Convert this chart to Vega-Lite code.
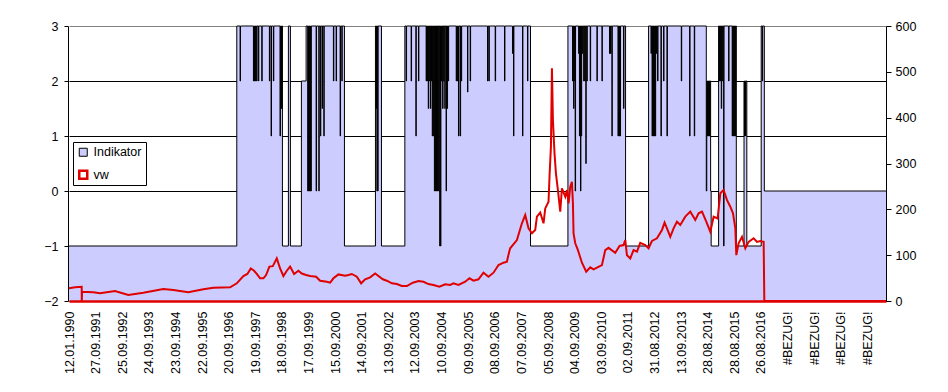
{
  "$schema": "https://vega.github.io/schema/vega-lite/v6.json",
  "width": 817,
  "height": 275,
  "autosize": "none",
  "padding": {"left": 69, "top": 26, "right": 62, "bottom": 91},
  "background": "white",
  "config": {
    "view": {"stroke": null},
    "font": "Liberation Sans",
    "axis": {"labelFont": "Liberation Sans", "labelFontSize": 12.5, "labelColor": "black", "domainColor": "black", "tickColor": "black", "title": null},
    "legend": {"labelFont": "Liberation Sans", "labelFontSize": 12.5, "labelColor": "black", "titleFont": "Liberation Sans"}
  },
  "datasets": {
    "ind": [
      {"u":0,"Indikator":-1},
      {"u":6.305,"Indikator":3},
      {"u":6.429,"Indikator":2},{"u":6.444,"Indikator":3},
      {"u":6.93,"Indikator":2},{"u":6.945,"Indikator":3},{"u":6.97,"Indikator":2},{"u":6.985,"Indikator":3},{"u":7.01,"Indikator":2},{"u":7.025,"Indikator":3},{"u":7.05,"Indikator":2},{"u":7.065,"Indikator":3},
      {"u":7.117,"Indikator":2},{"u":7.132,"Indikator":3},
      {"u":7.244,"Indikator":2},{"u":7.259,"Indikator":3},
      {"u":7.53,"Indikator":2},{"u":7.545,"Indikator":3},
      {"u":7.594,"Indikator":1},{"u":7.609,"Indikator":3},
      {"u":7.68,"Indikator":2},{"u":7.695,"Indikator":3},
      {"u":7.93,"Indikator":1},{"u":7.945,"Indikator":3},{"u":7.96,"Indikator":1.5},{"u":7.975,"Indikator":3},{"u":7.99,"Indikator":1.5},{"u":8.005,"Indikator":3},
      {"u":8.02,"Indikator":-1},
      {"u":8.244,"Indikator":3},
      {"u":8.32,"Indikator":-1},
      {"u":8.733,"Indikator":2},
      {"u":8.91,"Indikator":3},
      {"u":8.97,"Indikator":0},{"u":8.985,"Indikator":3},{"u":9.0,"Indikator":0},{"u":9.015,"Indikator":3},{"u":9.03,"Indikator":0},{"u":9.045,"Indikator":3},{"u":9.06,"Indikator":0},{"u":9.075,"Indikator":3},{"u":9.09,"Indikator":0},{"u":9.105,"Indikator":3},
      {"u":9.286,"Indikator":0},{"u":9.301,"Indikator":3},
      {"u":9.387,"Indikator":0},{"u":9.402,"Indikator":3},
      {"u":9.447,"Indikator":1},{"u":9.462,"Indikator":3},{"u":9.511,"Indikator":1.5},{"u":9.526,"Indikator":3},{"u":9.575,"Indikator":1},{"u":9.59,"Indikator":3},
      {"u":9.936,"Indikator":2},{"u":9.951,"Indikator":3},
      {"u":10.038,"Indikator":2},{"u":10.053,"Indikator":3},
      {"u":10.188,"Indikator":1},{"u":10.203,"Indikator":3},{"u":10.252,"Indikator":2},{"u":10.267,"Indikator":3},
      {"u":10.35,"Indikator":-1},
      {"u":11.515,"Indikator":3},
      {"u":11.54,"Indikator":1.5},{"u":11.555,"Indikator":3},{"u":11.57,"Indikator":0},{"u":11.585,"Indikator":3},{"u":11.6,"Indikator":0},{"u":11.615,"Indikator":3},
      {"u":11.741,"Indikator":-1},
      {"u":12.62,"Indikator":3},
      {"u":12.669,"Indikator":2},{"u":12.684,"Indikator":3},
      {"u":12.857,"Indikator":2},{"u":12.872,"Indikator":3},
      {"u":13.034,"Indikator":1},{"u":13.049,"Indikator":3},
      {"u":13.132,"Indikator":2},{"u":13.147,"Indikator":3},
      {"u":13.42,"Indikator":2},{"u":13.435,"Indikator":3},{"u":13.46,"Indikator":2},{"u":13.475,"Indikator":3},{"u":13.5,"Indikator":1.5},{"u":13.515,"Indikator":3},{"u":13.54,"Indikator":2},{"u":13.555,"Indikator":3},{"u":13.58,"Indikator":1.5},{"u":13.595,"Indikator":3},{"u":13.62,"Indikator":2},{"u":13.635,"Indikator":3},
      {"u":13.65,"Indikator":1},{"u":13.665,"Indikator":3},{"u":13.69,"Indikator":1},{"u":13.705,"Indikator":3},
      {"u":13.73,"Indikator":0},{"u":13.745,"Indikator":3},{"u":13.77,"Indikator":0},{"u":13.785,"Indikator":3},{"u":13.81,"Indikator":0},{"u":13.825,"Indikator":3},{"u":13.85,"Indikator":0},{"u":13.865,"Indikator":3},{"u":13.89,"Indikator":0},{"u":13.905,"Indikator":3},{"u":13.93,"Indikator":-1},{"u":13.945,"Indikator":3},{"u":13.96,"Indikator":-1},{"u":13.975,"Indikator":3},
      {"u":14.0,"Indikator":2},{"u":14.015,"Indikator":3},{"u":14.04,"Indikator":1.5},{"u":14.055,"Indikator":3},{"u":14.08,"Indikator":2},{"u":14.095,"Indikator":3},{"u":14.12,"Indikator":1.5},{"u":14.135,"Indikator":3},{"u":14.17,"Indikator":0},{"u":14.185,"Indikator":3},{"u":14.21,"Indikator":1.5},{"u":14.225,"Indikator":3},{"u":14.25,"Indikator":2},{"u":14.265,"Indikator":3},
      {"u":14.55,"Indikator":2},{"u":14.565,"Indikator":3},{"u":14.59,"Indikator":2},{"u":14.605,"Indikator":3},{"u":14.635,"Indikator":1},{"u":14.65,"Indikator":3},{"u":14.7,"Indikator":1},{"u":14.715,"Indikator":3},{"u":14.74,"Indikator":2},{"u":14.755,"Indikator":3},
      {"u":14.974,"Indikator":1.8},{"u":14.989,"Indikator":3},
      {"u":15.075,"Indikator":2},{"u":15.09,"Indikator":3},
      {"u":15.726,"Indikator":2},{"u":15.741,"Indikator":3},{"u":15.778,"Indikator":2},{"u":15.793,"Indikator":3},
      {"u":16.015,"Indikator":2},{"u":16.03,"Indikator":3},
      {"u":16.365,"Indikator":2},{"u":16.38,"Indikator":3},
      {"u":16.665,"Indikator":2.5},{"u":16.68,"Indikator":3},{"u":16.703,"Indikator":1},{"u":16.718,"Indikator":3},
      {"u":17.041,"Indikator":1},{"u":17.056,"Indikator":3},
      {"u":17.229,"Indikator":2},{"u":17.244,"Indikator":3},
      {"u":17.342,"Indikator":-1},
      {"u":18.748,"Indikator":3},
      {"u":18.92,"Indikator":2},{"u":18.935,"Indikator":3},{"u":18.96,"Indikator":1.5},{"u":18.975,"Indikator":3},{"u":18.99,"Indikator":2},{"u":19.005,"Indikator":3},{"u":19.02,"Indikator":0},{"u":19.035,"Indikator":3},
      {"u":19.15,"Indikator":2.5},{"u":19.165,"Indikator":3},{"u":19.18,"Indikator":1},{"u":19.195,"Indikator":3},{"u":19.22,"Indikator":0},{"u":19.235,"Indikator":3},{"u":19.25,"Indikator":1},{"u":19.265,"Indikator":3},{"u":19.29,"Indikator":2.5},{"u":19.305,"Indikator":3},
      {"u":19.34,"Indikator":2},{"u":19.355,"Indikator":3},{"u":19.38,"Indikator":2},{"u":19.395,"Indikator":3},{"u":19.42,"Indikator":0.5},{"u":19.435,"Indikator":3},{"u":19.46,"Indikator":2},{"u":19.475,"Indikator":3},
      {"u":19.586,"Indikator":2},{"u":19.601,"Indikator":3},
      {"u":19.838,"Indikator":2},{"u":19.853,"Indikator":3},
      {"u":20.026,"Indikator":2},{"u":20.041,"Indikator":3},
      {"u":20.31,"Indikator":2.5},{"u":20.325,"Indikator":3},{"u":20.35,"Indikator":2.5},{"u":20.365,"Indikator":3},{"u":20.4,"Indikator":1},{"u":20.415,"Indikator":3},
      {"u":20.63,"Indikator":1},{"u":20.645,"Indikator":3},{"u":20.67,"Indikator":1},{"u":20.685,"Indikator":3},{"u":20.71,"Indikator":1},{"u":20.725,"Indikator":3},
      {"u":20.838,"Indikator":1.5},{"u":20.853,"Indikator":3},
      {"u":20.914,"Indikator":-1},
      {"u":21.778,"Indikator":3},
      {"u":21.87,"Indikator":2.5},{"u":21.885,"Indikator":3},{"u":21.91,"Indikator":1},{"u":21.925,"Indikator":3},{"u":21.95,"Indikator":1},{"u":21.965,"Indikator":3},{"u":21.99,"Indikator":1},{"u":22.005,"Indikator":3},{"u":22.03,"Indikator":1},{"u":22.045,"Indikator":3},{"u":22.06,"Indikator":2.5},{"u":22.075,"Indikator":3},
      {"u":22.117,"Indikator":2},{"u":22.132,"Indikator":3},
      {"u":22.244,"Indikator":1},{"u":22.259,"Indikator":3},
      {"u":22.342,"Indikator":2},{"u":22.357,"Indikator":3},
      {"u":22.47,"Indikator":1},{"u":22.485,"Indikator":3},
      {"u":23.008,"Indikator":2},{"u":23.023,"Indikator":3},
      {"u":23.32,"Indikator":1},{"u":23.335,"Indikator":3},
      {"u":23.496,"Indikator":1},{"u":23.511,"Indikator":3},
      {"u":23.947,"Indikator":0},{"u":23.965,"Indikator":2},{"u":23.99,"Indikator":1},{"u":24.005,"Indikator":2},{"u":24.03,"Indikator":1},{"u":24.045,"Indikator":2},{"u":24.07,"Indikator":1},{"u":24.085,"Indikator":2},{"u":24.11,"Indikator":0},
      {"u":24.13,"Indikator":-1},
      {"u":24.41,"Indikator":3},{"u":24.43,"Indikator":2},{"u":24.445,"Indikator":3},{"u":24.47,"Indikator":2},{"u":24.485,"Indikator":3},{"u":24.51,"Indikator":1.5},{"u":24.525,"Indikator":3},{"u":24.55,"Indikator":2},{"u":24.565,"Indikator":3},{"u":24.598,"Indikator":-1},{"u":24.613,"Indikator":3},
      {"u":24.786,"Indikator":2},{"u":24.801,"Indikator":3},
      {"u":24.92,"Indikator":1},{"u":24.935,"Indikator":3},{"u":24.96,"Indikator":1},{"u":24.975,"Indikator":3},{"u":25.0,"Indikator":1},{"u":25.015,"Indikator":3},{"u":25.04,"Indikator":1},{"u":25.055,"Indikator":3},
      {"u":25.075,"Indikator":-1},
      {"u":25.365,"Indikator":2},{"u":25.38,"Indikator":1},{"u":25.395,"Indikator":2},{"u":25.42,"Indikator":1},{"u":25.435,"Indikator":2},
      {"u":25.47,"Indikator":-1},
      {"u":26.01,"Indikator":3},{"u":26.05,"Indikator":2},{"u":26.065,"Indikator":3},
      {"u":26.128,"Indikator":0},
      {"u":30.7,"Indikator":0}
    ],
    "vw": [
      {"u":0,"vw":28},{"u":0.23,"vw":30},{"u":0.477,"vw":31},{"u":0.48,"vw":0},{"u":0.49,"vw":20},
      {"u":0.914,"vw":19},{"u":1.165,"vw":16.7},{"u":1.729,"vw":21.8},{"u":2.229,"vw":13},{"u":2.793,"vw":18},
      {"u":3.545,"vw":26},{"u":3.921,"vw":24},{"u":4.485,"vw":19},{"u":5.049,"vw":25.5},{"u":5.425,"vw":29},
      {"u":6.053,"vw":30},{"u":6.305,"vw":38.6},{"u":6.553,"vw":54.5},{"u":6.703,"vw":59},{"u":6.831,"vw":71},
      {"u":6.955,"vw":66},{"u":7.056,"vw":59},{"u":7.18,"vw":49.5},{"u":7.305,"vw":49.5},{"u":7.406,"vw":56.7},
      {"u":7.53,"vw":75},{"u":7.658,"vw":76},{"u":7.808,"vw":93},{"u":7.932,"vw":71},{"u":8.056,"vw":54.5},
      {"u":8.184,"vw":66},{"u":8.308,"vw":75},{"u":8.459,"vw":59},{"u":8.62,"vw":66},{"u":8.748,"vw":60},
      {"u":8.91,"vw":56.7},{"u":9.06,"vw":54.5},{"u":9.286,"vw":53},{"u":9.436,"vw":44.3},{"u":9.688,"vw":42},
      {"u":9.812,"vw":40},{"u":9.936,"vw":49.5},{"u":10.124,"vw":58},{"u":10.376,"vw":55.3},{"u":10.5,"vw":56.7},
      {"u":10.628,"vw":59},{"u":10.816,"vw":53},{"u":10.977,"vw":38.6},{"u":11.128,"vw":47.3},{"u":11.316,"vw":51.7},
      {"u":11.504,"vw":60},{"u":11.628,"vw":54.5},{"u":11.793,"vw":47.3},{"u":11.944,"vw":44.3},{"u":12.132,"vw":38.6},
      {"u":12.32,"vw":37},{"u":12.508,"vw":32.7},{"u":12.695,"vw":32.7},{"u":12.921,"vw":40},{"u":13.132,"vw":43.6},
      {"u":13.32,"vw":42},{"u":13.508,"vw":37},{"u":13.695,"vw":35},{"u":13.921,"vw":31.2},{"u":14.135,"vw":36.4},
      {"u":14.323,"vw":35},{"u":14.447,"vw":38.6},{"u":14.635,"vw":35},{"u":14.887,"vw":42},{"u":15.049,"vw":49.5},
      {"u":15.199,"vw":44.3},{"u":15.387,"vw":47.3},{"u":15.575,"vw":61.8},{"u":15.763,"vw":53},{"u":15.951,"vw":61.8},
      {"u":16.139,"vw":78.5},{"u":16.327,"vw":83.6},{"u":16.455,"vw":85.8},{"u":16.541,"vw":107.6},
      {"u":16.579,"vw":115},{"u":16.831,"vw":133},{"u":17.019,"vw":169.5},{"u":17.143,"vw":187.6},
      {"u":17.267,"vw":158.6},{"u":17.395,"vw":147.7},{"u":17.519,"vw":155},{"u":17.583,"vw":184},{"u":17.707,"vw":193},
      {"u":17.831,"vw":169.5},{"u":17.895,"vw":202},{"u":18.019,"vw":216.7},{"u":18.056,"vw":271},{"u":18.109,"vw":336.7},
      {"u":18.147,"vw":508},{"u":18.184,"vw":395},{"u":18.244,"vw":322},{"u":18.297,"vw":278.6},{"u":18.372,"vw":242},
      {"u":18.459,"vw":195},{"u":18.523,"vw":246},{"u":18.647,"vw":227.6},{"u":18.711,"vw":242},{"u":18.771,"vw":213},
      {"u":18.835,"vw":249},{"u":18.898,"vw":260},{"u":18.936,"vw":213},{"u":18.959,"vw":147.7},{"u":19.023,"vw":126},
      {"u":19.124,"vw":111},{"u":19.274,"vw":83.6},{"u":19.436,"vw":64},{"u":19.586,"vw":73.5},{"u":19.711,"vw":69},
      {"u":20.026,"vw":78.5},{"u":20.15,"vw":111},{"u":20.274,"vw":116},{"u":20.526,"vw":105},{"u":20.688,"vw":120},
      {"u":20.838,"vw":122},{"u":20.902,"vw":133},{"u":20.966,"vw":100},{"u":21.09,"vw":93},{"u":21.214,"vw":111},
      {"u":21.342,"vw":107.6},{"u":21.466,"vw":127},{"u":21.654,"vw":122},{"u":21.778,"vw":115},{"u":21.906,"vw":131},
      {"u":22.094,"vw":136.8},{"u":22.282,"vw":155},{"u":22.38,"vw":171},{"u":22.47,"vw":158.6},{"u":22.594,"vw":140},
      {"u":22.718,"vw":158.6},{"u":22.846,"vw":173},{"u":22.97,"vw":166},{"u":23.158,"vw":184},{"u":23.346,"vw":195},
      {"u":23.534,"vw":176.7},{"u":23.658,"vw":191.4},{"u":23.786,"vw":195},{"u":23.947,"vw":173},{"u":24.098,"vw":151},
      {"u":24.222,"vw":184},{"u":24.372,"vw":180},{"u":24.474,"vw":235},{"u":24.598,"vw":242},{"u":24.726,"vw":220},
      {"u":24.85,"vw":205.8},{"u":24.951,"vw":191.4},{"u":25.038,"vw":158.6},{"u":25.075,"vw":100},{"u":25.162,"vw":126},
      {"u":25.289,"vw":140},{"u":25.414,"vw":115},{"u":25.538,"vw":129},{"u":25.726,"vw":136.8},{"u":25.853,"vw":129},
      {"u":25.977,"vw":131},{"u":26.102,"vw":129},{"u":26.128,"vw":0},{"u":30.7,"vw":0}
    ]
  },
  "encoding": {
    "x": {
      "field": "u", "type": "quantitative",
      "scale": {"domain": [0, 30.7], "nice": false, "zero": false},
      "axis": {
        "values": [0,1,2,3,4,5,6,7,8,9,10,11,12,13,14,15,16,17,18,19,20,21,22,23,24,25,26,27,28,29,30],
        "labelExpr": "['12.01.1990','27.09.1991','25.09.1992','24.09.1993','23.09.1994','22.09.1995','20.09.1996','19.09.1997','18.09.1998','17.09.1999','15.09.2000','14.09.2001','13.09.2002','12.09.2003','10.09.2004','09.09.2005','08.09.2006','07.09.2007','05.09.2008','04.09.2009','03.09.2010','02.09.2011','31.08.2012','13.09.2013','28.08.2014','28.08.2015','26.08.2016','#BEZUG!','#BEZUG!','#BEZUG!','#BEZUG!'][round(datum.value)]",
        "labelAngle": -90, "ticks": false, "tickSize": 0, "grid": false,
        "domainColor": "#E00000", "domainWidth": 2.5, "labelPadding": 10,
        "title": null, "zindex": 1, "labelOverlap": false, "labelFlush": false, "labelBound": false
      }
    }
  },
  "layer": [
    {
      "data": {"name": "ind"},
      "encoding": {
        "y": {
          "field": "Indikator", "type": "quantitative",
          "scale": {"domain": [-2, 3], "nice": false, "zero": false},
          "axis": {
            "values": [-2, -1, 0, 1, 2, 3], "format": "d", "title": null,
            "grid": true,
            "gridColor": {"condition": {"test": "datum.value === 3", "value": "#808080"}, "value": "black"},
            "tickSize": 4, "labelPadding": 6, "zindex": 0, "offset": 1
          }
        }
      },
      "layer": [
        {
          "mark": {"type": "area", "interpolate": "step-after", "fillOpacity": 1},
          "encoding": {
            "y2": {"datum": -2},
            "fill": {
              "datum": "Indikator",
              "scale": {"range": ["#CCCCFF"]},
              "legend": {
                "title": " ", "titleOrient": "bottom", "titleFontSize": 12.5, "titlePadding": 9.5,
                "orient": "none", "legendX": 4, "legendY": 116,
                "symbolType": "square", "symbolSize": 64,
                "symbolStrokeColor": "black", "symbolStrokeWidth": 1,
                "labelOffset": 4, "padding": 4,
                "strokeColor": "black"
              }
            }
          }
        },
        {
          "mark": {"type": "line", "interpolate": "step-after", "color": "black", "strokeWidth": 1},
          "encoding": {}
        }
      ]
    },
    {
      "data": {"name": "vw"},
      "mark": {"type": "line", "strokeWidth": 2},
      "encoding": {
        "y": {
          "field": "vw", "type": "quantitative",
          "scale": {"domain": [0, 600], "nice": false, "zero": false},
          "axis": {"orient": "right", "values": [0,100,200,300,400,500,600], "title": null, "grid": false, "tickSize": 5, "labelPadding": 4, "zindex": 1}
        },
        "stroke": {
          "datum": "vw",
          "scale": {"range": ["#E00000"]},
          "legend": {
            "title": null, "orient": "none", "legendX": 4, "legendY": 138.5,
            "symbolType": "square", "symbolSize": 64,
            "symbolFillColor": "white", "symbolStrokeWidth": 2.5,
            "labelOffset": 4, "padding": 4
          }
        }
      }
    }
  ],
  "resolve": {"scale": {"y": "independent"}}
}
